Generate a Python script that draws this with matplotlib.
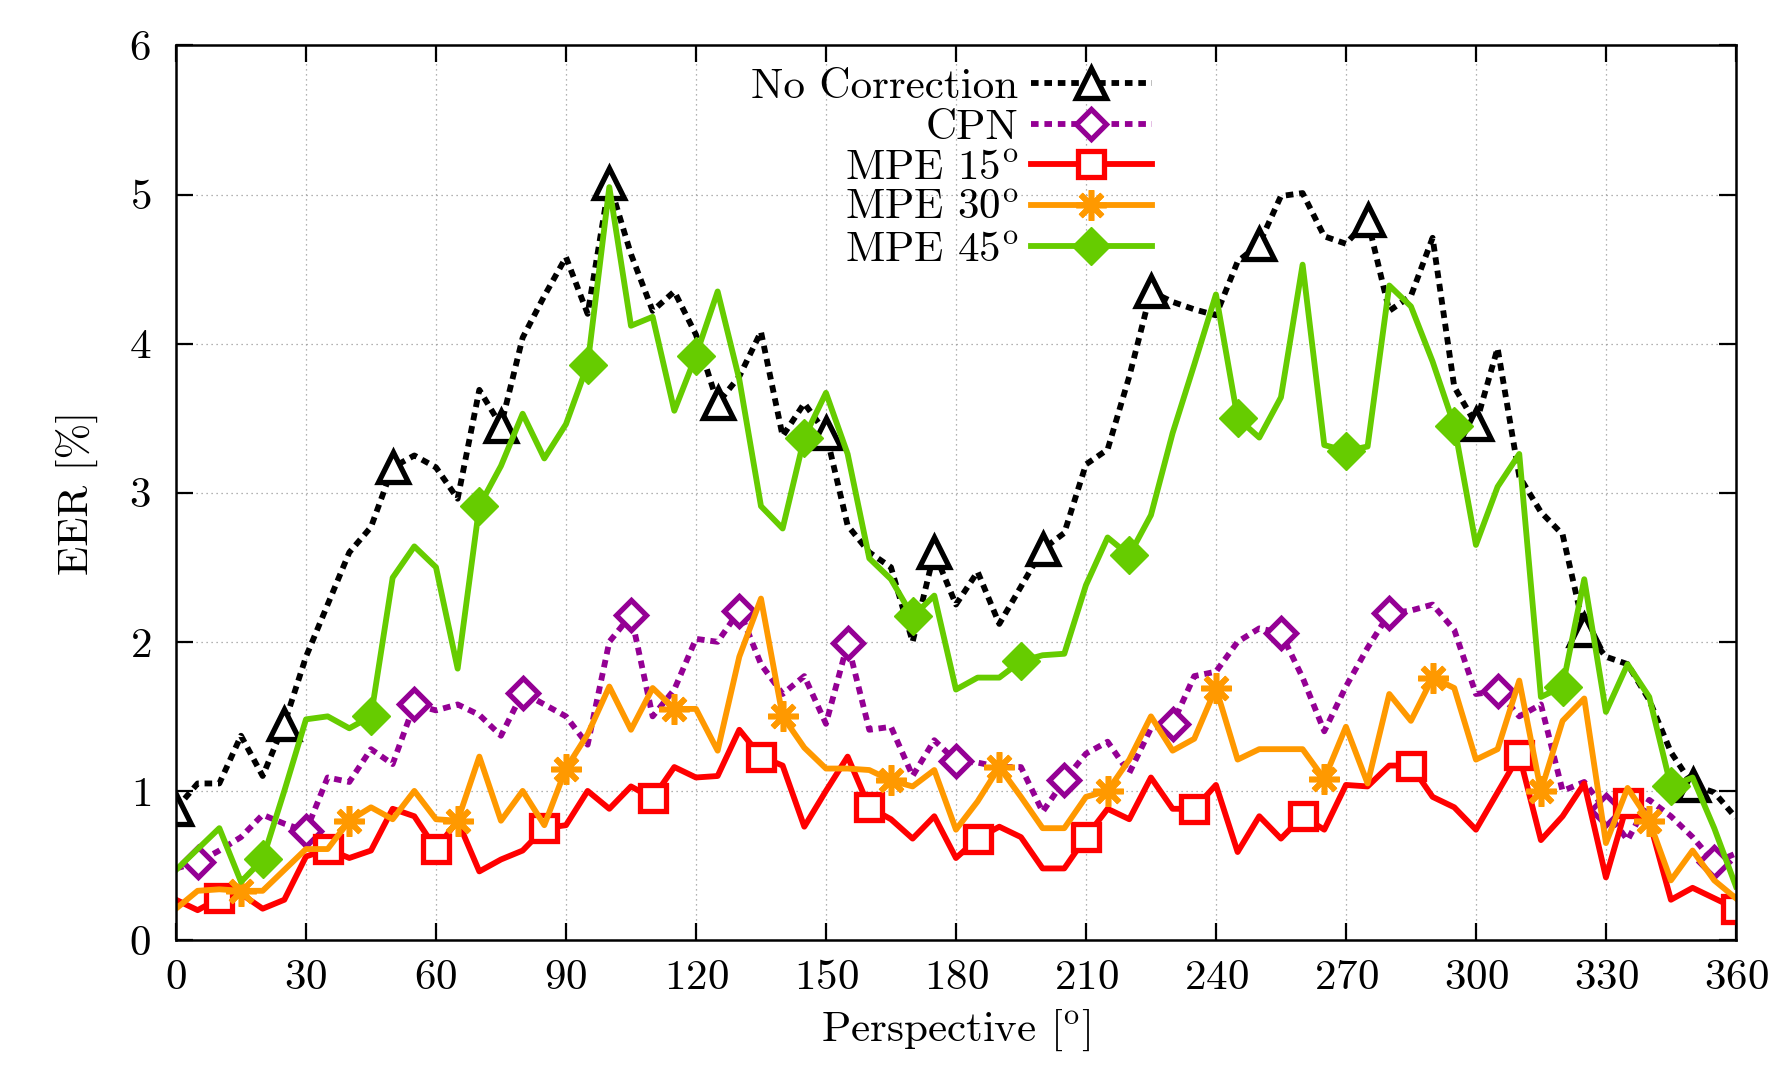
import numpy as np
import matplotlib
matplotlib.use("Agg")
import matplotlib.pyplot as plt

plt.rcParams['font.family'] = 'serif'
plt.rcParams['font.serif'] = ['cmr10']
plt.rcParams['mathtext.fontset'] = 'cm'
plt.rcParams['axes.formatter.use_mathtext'] = True

perspective = np.arange(0, 361, 5)

no_correction = [0.88, 1.05, 1.05, 1.37, 1.10, 1.45, 1.90, 2.25, 2.60, 2.77,
                 3.17, 3.25, 3.17, 2.96, 3.69, 3.45, 4.04, 4.32, 4.58, 4.20,
                 5.08, 4.60, 4.22, 4.35, 4.06, 3.60, 3.78, 4.08, 3.38, 3.60,
                 3.40, 2.78, 2.60, 2.50, 2.00, 2.60, 2.25, 2.47, 2.12, 2.37,
                 2.62, 2.73, 3.19, 3.29, 3.78, 4.35, 4.28, 4.23, 4.19, 4.55,
                 4.67, 4.99, 5.01, 4.72, 4.67, 4.83, 4.22, 4.32, 4.71, 3.71,
                 3.46, 3.97, 3.11, 2.87, 2.72, 2.08, 1.90, 1.85, 1.61, 1.26,
                 1.04, 0.99, 0.82]

cpn = [0.48, 0.52, 0.60, 0.69, 0.84, 0.78, 0.73, 1.09, 1.06, 1.28,
       1.18, 1.58, 1.54, 1.58, 1.51, 1.37, 1.66, 1.58, 1.50, 1.31,
       2.00, 2.18, 1.50, 1.68, 2.02, 2.00, 2.21, 1.85, 1.65, 1.77,
       1.45, 1.99, 1.41, 1.43, 1.10, 1.34, 1.20, 1.19, 1.16, 1.16,
       0.86, 1.07, 1.25, 1.33, 1.12, 1.42, 1.45, 1.77, 1.80, 2.00,
       2.09, 2.06, 1.76, 1.40, 1.70, 1.96, 2.19, 2.21, 2.25, 2.08,
       1.65, 1.67, 1.50, 1.58, 1.00, 1.06, 0.87, 0.67, 0.94, 0.83,
       0.69, 0.52, 0.58]

mpe15 = [0.27, 0.20, 0.28, 0.31, 0.21, 0.27, 0.56, 0.61, 0.55, 0.60,
         0.88, 0.83, 0.61, 0.80, 0.46, 0.54, 0.60, 0.75, 0.77, 1.00,
         0.88, 1.03, 0.95, 1.16, 1.09, 1.10, 1.41, 1.23, 1.17, 0.76,
         1.00, 1.23, 0.89, 0.81, 0.68, 0.83, 0.55, 0.68, 0.76, 0.69,
         0.48, 0.48, 0.69, 0.88, 0.81, 1.09, 0.88, 0.88, 1.04, 0.59,
         0.83, 0.68, 0.83, 0.74, 1.04, 1.03, 1.17, 1.17, 0.96, 0.89,
         0.74, 0.99, 1.24, 0.67, 0.83, 1.05, 0.42, 0.92, 0.80, 0.27,
         0.35, 0.28, 0.21]

mpe30 = [0.21, 0.33, 0.34, 0.33, 0.33, 0.47, 0.61, 0.61, 0.80, 0.89,
         0.81, 1.00, 0.81, 0.80, 1.23, 0.80, 1.00, 0.77, 1.15, 1.38,
         1.70, 1.41, 1.69, 1.55, 1.55, 1.27, 1.90, 2.29, 1.50, 1.29,
         1.15, 1.15, 1.14, 1.07, 1.03, 1.14, 0.74, 0.93, 1.16, 0.96,
         0.75, 0.75, 0.96, 1.00, 1.21, 1.50, 1.27, 1.35, 1.69, 1.21,
         1.28, 1.28, 1.28, 1.08, 1.43, 1.05, 1.65, 1.47, 1.76, 1.69,
         1.21, 1.28, 1.74, 1.00, 1.47, 1.62, 0.65, 1.02, 0.80, 0.40,
         0.60, 0.40, 0.28]

mpe45 = [0.47, 0.61, 0.75, 0.39, 0.54, 1.00, 1.48, 1.50, 1.42, 1.50,
         2.43, 2.64, 2.50, 1.82, 2.91, 3.18, 3.53, 3.23, 3.46, 3.86,
         5.05, 4.12, 4.18, 3.55, 3.92, 4.35, 3.76, 2.91, 2.76, 3.37,
         3.67, 3.26, 2.56, 2.42, 2.17, 2.31, 1.68, 1.76, 1.76, 1.87,
         1.91, 1.92, 2.38, 2.70, 2.58, 2.85, 3.40, 3.86, 4.33, 3.50,
         3.37, 3.64, 4.53, 3.32, 3.28, 3.31, 4.39, 4.25, 3.88, 3.45,
         2.65, 3.04, 3.26, 1.63, 1.70, 2.42, 1.53, 1.85, 1.63, 1.03,
         1.09, 0.75, 0.36]

x_ticks = list(range(0, 361, 30))
y_ticks = list(range(0, 7))

fig = plt.figure(figsize=(17.85, 10.7), dpi=100)
ax = fig.add_axes([0.0986, 0.1215, 0.8739, 0.836])

lw = 4.2
dots = (0, (1.3, 1.0))
fs = 31

ax.plot(perspective, no_correction, color='black', lw=lw, linestyle=dots,
        marker='^', ms=21, mew=3.8, mfc='white', markevery=(0, 5),
        label='No Correction')
ax.plot(perspective, cpn, color='#940094', lw=lw, linestyle=dots,
        marker='D', ms=15, mew=3.8, mfc='white', markevery=(1, 5),
        label='CPN')
ax.plot(perspective, mpe15, color='#ff0000', lw=lw,
        marker='s', ms=19, mew=3.8, mfc='white', markevery=(2, 5),
        label='MPE 15$^{\\mathrm{o}}$')
ax.plot(perspective, mpe30, color='#ff9900', lw=lw,
        marker=(8, 2, 0), ms=22, mew=4, markevery=(3, 5),
        label='MPE 30$^{\\mathrm{o}}$')
ax.plot(perspective, mpe45, color='#66cc00', lw=lw,
        marker='D', ms=19, mew=1, markevery=(4, 5),
        label='MPE 45$^{\\mathrm{o}}$')

ax.set_xlim(0, 360)
ax.set_ylim(0, 6)
ax.set_xticks(x_ticks)
ax.set_yticks(y_ticks)
ax.grid(True, color='#999999', linestyle=(0, (1, 3)), lw=0.9)
ax.tick_params(direction='in', length=12, width=1.6, top=True, right=True,
               labelsize=fs)
ax.tick_params(axis='y', pad=18)
ax.tick_params(axis='x', pad=14)
for s in ax.spines.values():
    s.set_linewidth(1.8)

ax.set_xlabel('Perspective [$^{\\mathrm{o}}$]', fontsize=fs, labelpad=8)
ax.set_ylabel('EER [%]', fontsize=fs, labelpad=22)

leg = ax.legend(loc='upper right', bbox_to_anchor=(0.6255, 0.975), frameon=False,
                markerfirst=False, fontsize=fs, handlelength=2.8,
                labelspacing=0.06, borderpad=0, borderaxespad=0,
                handletextpad=0.3)
for t in leg.get_texts():
    t.set_ha('right')
leg._legend_box.align = 'right'

fig.savefig('out.png', dpi=100)
